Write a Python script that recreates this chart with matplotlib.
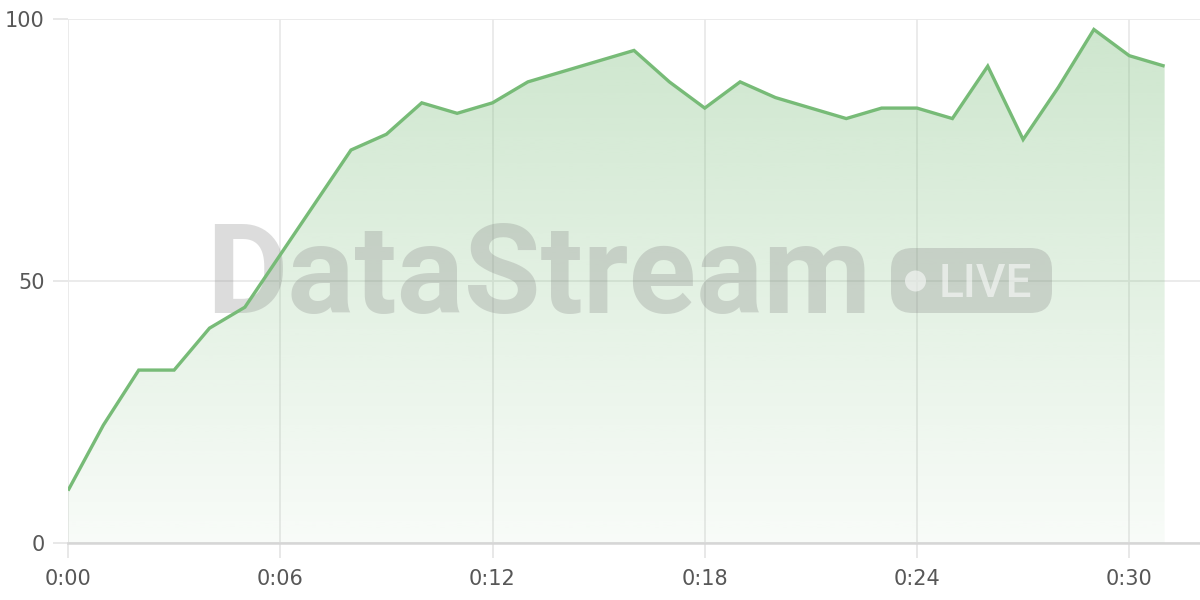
import numpy as np
import matplotlib
matplotlib.use("Agg")
import matplotlib.pyplot as plt
from matplotlib.patches import FancyBboxPatch, Ellipse
from matplotlib.colors import to_rgb

# ---- data ----
seconds = list(range(32))
values = [10, 22.5, 33, 33, 41, 45, 55, 65, 75, 78, 84, 82, 84, 88, 90, 92,
          94, 88, 83, 88, 85, 83, 81, 83, 83, 81, 91, 77, 87, 98, 93, 91]
tick_pos = [0, 6, 12, 18, 24, 30]
tick_labels = ["0:00", "0:06", "0:12", "0:18", "0:24", "0:30"]
ytick_pos = [0, 50, 100]
ytick_labels = ["0", "50", "100"]
watermark = "DataStream"
badge_text = "LIVE"

W, H = 1200, 600
fig = plt.figure(figsize=(12, 6), dpi=100)
ax = fig.add_axes([68 / W, 1 - 543 / H, 1 - 68 / W, (543 - 19) / H])

line_color = "#77bb77"
rgb = np.array(to_rgb(line_color))

ax.set_xlim(0, 32)
ax.set_ylim(0, 100)

# gradient fill
poly = ax.fill_between(seconds, values, 0, facecolor="none", edgecolor="none")
n = 256
alpha = np.linspace(0.05, 0.37, n)[:, None]
img = np.zeros((n, 1, 4))
img[..., 0] = rgb[0]
img[..., 1] = rgb[1]
img[..., 2] = rgb[2]
img[..., 3] = alpha
im = ax.imshow(img, extent=[seconds[0], seconds[-1], 0, 100], origin="lower",
               aspect="auto", zorder=1, interpolation="bilinear")
im.set_clip_path(poly.get_paths()[0], transform=ax.transData)

# line
ax.plot(seconds, values, color=line_color, lw=2.4, zorder=4,
        solid_joinstyle="miter", solid_capstyle="butt")

# grid & axes styling
ax.set_xticks(tick_pos)
ax.set_xticklabels(tick_labels)
ax.set_yticks(ytick_pos)
ax.set_yticklabels(ytick_labels)
ax.grid(True, color="#e9e9e9", lw=1.3, zorder=0)
ax.set_axisbelow(True)
for s in ["top", "right", "left"]:
    ax.spines[s].set_visible(False)
ax.spines["bottom"].set_color("#d6d6d6")
ax.spines["bottom"].set_linewidth(1.8)
ax.tick_params(axis="x", length=11, width=1.3, color="#e6e6e6", pad=8,
               labelsize=15, labelcolor="#575757")
ax.tick_params(axis="y", length=11, width=1.3, color="#e6e6e6", pad=6,
               labelsize=15, labelcolor="#575757")
for lab in ax.get_xticklabels() + ax.get_yticklabels():
    lab.set_fontfamily("DejaVu Sans")

# watermark (behind the line, above the fill)
ax.text(206 / W, 1 - 313 / H, watermark, transform=fig.transFigure,
        fontsize=90, fontweight="bold", family="Roboto", color="#808080",
        alpha=0.27, ha="left", va="baseline", zorder=2, clip_on=False)
badge = FancyBboxPatch((891 / W, 1 - 313 / H), (1052 - 891) / W, (313 - 248) / H,
                       boxstyle="round,pad=0,rounding_size=0.018",
                       transform=fig.transFigure, facecolor="#808080",
                       edgecolor="none", alpha=0.27, zorder=2, clip_on=False,
                       mutation_aspect=2)
ax.add_artist(badge)
dot = Ellipse((915.5 / W, 1 - 281 / H), 21 / W, 21 / H, transform=fig.transFigure,
              facecolor="white", edgecolor="none", alpha=0.55, zorder=2.5, clip_on=False)
ax.add_artist(dot)
ax.text(939 / W, 1 - 297 / H, badge_text, transform=fig.transFigure,
        fontsize=33, fontweight="medium", family="Roboto", color="white",
        alpha=0.55, ha="left", va="baseline", zorder=2.5, clip_on=False)

fig.savefig("out.png", dpi=100)
